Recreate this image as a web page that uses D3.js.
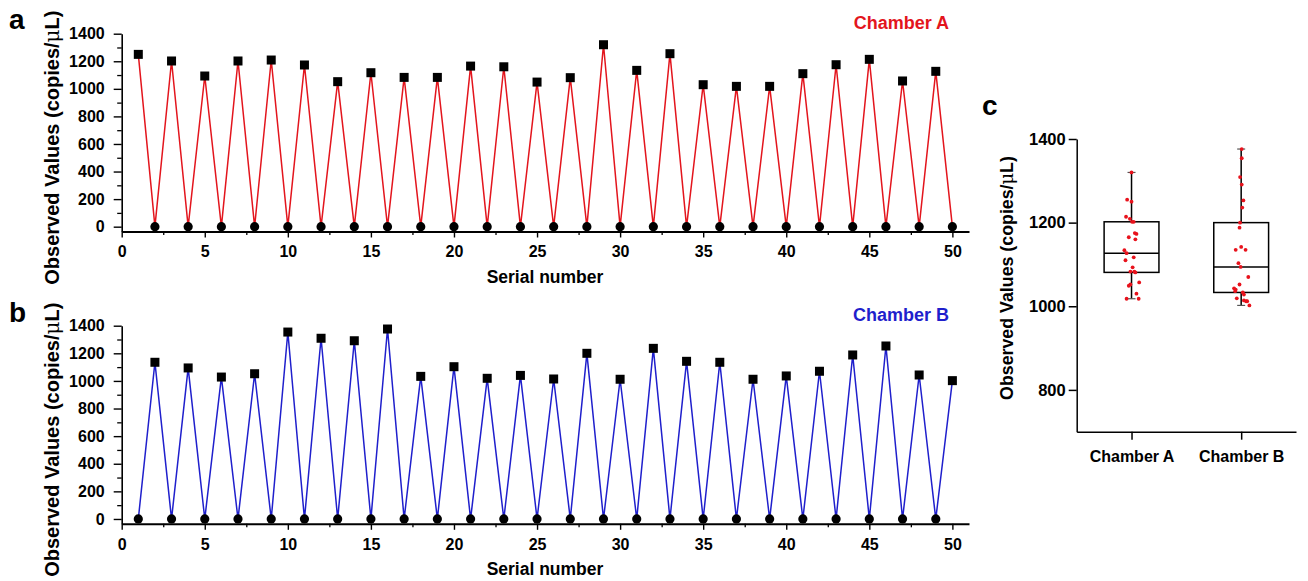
<!DOCTYPE html>
<html>
<head>
<meta charset="utf-8">
<script src="https://cdn.jsdelivr.net/npm/d3@7"></script>
<style>
  html, body { margin: 0; padding: 0; background: #fff; }
  svg { display: block; font-family: "Liberation Sans", Arial, sans-serif; }
  .axis text { font-weight: bold; fill: #000; }
  .axis path, .axis line { stroke: #000; }
</style>
</head>
<body>
<svg id="chart" width="1308" height="581"></svg>
<script>
// ---------------- data ----------------
const serial = [1,2,3,4,5,6,7,8,9,10,11,12,13,14,15,16,17,18,19,20,21,22,23,24,25,
                26,27,28,29,30,31,32,33,34,35,36,37,38,39,40,41,42,43,44,45,46,47,48,49,50];
const chamberA = [1250,0,1202,0,1093,0,1202,0,1209,0,1173,0,1052,0,1117,0,1083,0,1083,0,
                  1165,0,1160,0,1049,0,1081,0,1320,0,1134,0,1255,0,1030,0,1018,0,1018,0,
                  1110,0,1175,0,1214,0,1057,0,1127,0];
const chamberB = [0,1135,0,1094,0,1028,0,1052,0,1354,0,1309,0,1291,0,1376,0,1033,0,1103,
                  0,1019,0,1040,0,1014,0,1200,0,1012,0,1236,0,1142,0,1135,0,1012,0,1036,
                  0,1070,0,1188,0,1253,0,1043,0,1002];
const xTicks = [0,5,10,15,20,25,30,35,40,45,50];
const yTicks = [0,200,400,600,800,1000,1200,1400];
const boxCategories = ["Chamber A","Chamber B"];
const boxTicks = [800,1000,1200,1400];
// horizontal jitter of the scatter dots in panel c, as a fraction of the box width
const jitterA = [0,0.01,0.02,0.04,-0.03,0.09,-0.02,0.04,-0.02,0.05,-0.05,0.07,-0.05,0.07,0,
                 -0.13,-0.08,0.09,-0.09,0.13,-0.11,0.06,-0.10,0.14,-0.09];
const jitterB = [-0.10,-0.01,0.05,-0.03,0.01,-0.02,0.01,0.01,0.03,-0.05,-0.08,-0.10,0.05,-0.02,
                 0.09,0.02,0,0.08,0.11,-0.11,0.13,-0.03,0.04,-0.13,0.15];

// ---------------- drawing ----------------
const svg = d3.select("#chart");
const FONT = '"Liberation Sans", Arial, sans-serif';
const RED = "#e3151d", BLUE = "#1f1fcc";
const fmt = d3.format("d");

function seriesPanel(values, color, yRange, label, titleY, xTitleY, panelLetter, letterY) {
  const x = d3.scaleLinear().domain([0, 51]).range([121.7, 969]);
  const y = d3.scaleLinear().domain([-35, 1400]).range(yRange);
  const g = svg.append("g");
  const y0 = y(-35);

  // minor ticks
  g.append("g").attr("class","axis").attr("transform",`translate(0,${y0})`)
    .call(d3.axisBottom(x).tickValues(d3.range(2.5, 51, 5)).tickSize(3.5).tickFormat(""))
    .call(a => a.select(".domain").remove())
    .selectAll("line").attr("stroke-width",1.3);
  g.append("g").attr("class","axis").attr("transform",`translate(${x(0)},0)`)
    .call(d3.axisLeft(y).tickValues(d3.range(100, 1400, 200)).tickSize(4.5).tickFormat(""))
    .call(a => a.select(".domain").remove())
    .selectAll("line").attr("stroke-width",1.3);

  // major axes
  const xa = g.append("g").attr("class","axis").attr("transform",`translate(0,${y0})`)
    .call(d3.axisBottom(x).tickValues(xTicks).tickFormat(fmt).tickSize(6).tickPadding(8.5).tickSizeOuter(0));
  xa.select(".domain").attr("stroke-width",2);
  xa.selectAll("line").attr("stroke-width",1.4);
  xa.selectAll("text").style("font-size","16px").style("font-family",FONT);

  const ya = g.append("g").attr("class","axis").attr("transform",`translate(${x(0)},0)`)
    .call(d3.axisLeft(y).tickValues(yTicks).tickFormat(fmt).tickSize(8).tickPadding(9).tickSizeOuter(0));
  ya.select(".domain").attr("stroke-width",1.6);
  ya.selectAll("line").attr("stroke-width",1.4);
  ya.selectAll("text").style("font-size","16px").style("font-family",FONT);

  // line
  const pts = serial.map((s,i)=>({s, v: values[i]}));
  g.append("path").datum(pts)
    .attr("fill","none").attr("stroke",color).attr("stroke-width",1.5)
    .attr("d", d3.line().x(d=>x(d.s)).y(d=>y(d.v)));

  // markers
  g.selectAll("rect.m").data(pts.filter(d=>d.v>0)).join("rect").attr("class","m")
    .attr("x",d=>x(d.s)-4.5).attr("y",d=>y(d.v)-4.5).attr("width",9).attr("height",9).attr("fill","#000");
  g.selectAll("circle.m").data(pts.filter(d=>d.v===0)).join("circle").attr("class","m")
    .attr("cx",d=>x(d.s)).attr("cy",d=>y(d.v)).attr("r",4.6).attr("fill","#000");

  // labels
  g.append("text").attr("x",949).attr("y",titleY).attr("text-anchor","end")
    .style("font-size","18px").style("font-weight","bold").attr("fill",color).text(label);
  g.append("text").attr("x",545).attr("y",xTitleY).attr("text-anchor","middle")
    .style("font-size","17.5px").style("font-weight","bold").attr("fill","#000").text("Serial number");
  const yt = g.append("text")
    .attr("transform",`translate(59,${(yRange[0]+yRange[1])/2 + 15}) rotate(-90)`)
    .attr("text-anchor","middle").style("font-size","20px").style("font-weight","bold");
  yt.append("tspan").text("Observed Values (copies/");
  yt.append("tspan").style("font-weight","normal").style("font-family",'"DejaVu Serif", serif').text("μ");
  yt.append("tspan").text("L)");
  g.append("text").attr("x",9).attr("y",letterY)
    .style("font-size","28px").style("font-weight","bold").attr("fill","#000").text(panelLetter);
}

seriesPanel(chamberA, RED, [231.5, 33.7], "Chamber A", 29, 283, "a", 28.5);
seriesPanel(chamberB, BLUE, [523.8, 325.7], "Chamber B", 320.7, 575, "b", 321.5);

// ---------------- panel c ----------------
(function(){
  const x = d3.scalePoint().domain(boxCategories).range([1076.7, 1296]).padding(0.5);
  const y = d3.scaleLinear().domain([700, 1400]).range([431.7, 139]);
  const g = svg.append("g");
  const boxW = x.step() * 0.5;

  const xa = g.append("g").attr("class","axis").attr("transform",`translate(0,${y(700)})`)
    .call(d3.axisBottom(x).tickSize(8).tickPadding(11).tickSizeOuter(0));
  xa.select(".domain").attr("stroke-width",1.5).attr("stroke","#333");
  xa.selectAll("line").attr("stroke-width",1.5);
  xa.selectAll("text").style("font-size","16px").style("font-family",FONT);

  const ya = g.append("g").attr("class","axis").attr("transform",`translate(${x.range()[0]},0)`)
    .call(d3.axisLeft(y).tickValues(boxTicks).tickFormat(fmt).tickSize(8).tickPadding(3).tickSizeOuter(0));
  ya.select(".domain").attr("stroke-width",1.5).attr("stroke","#333");
  ya.selectAll("line").attr("stroke-width",1.5);
  ya.selectAll("text").style("font-size","16.5px").style("font-family",FONT);

  const groups = [
    {cat: boxCategories[0], vals: chamberA.filter(v=>v>0), jit: jitterA},
    {cat: boxCategories[1], vals: chamberB.filter(v=>v>0), jit: jitterB}
  ];
  groups.forEach(gr => {
    const s = gr.vals.slice().sort(d3.ascending);
    const q1 = d3.quantile(s,0.25), med = d3.quantile(s,0.5), q3 = d3.quantile(s,0.75);
    const mn = s[0], mx = s[s.length-1];
    const cx = x(gr.cat);
    // whiskers
    g.append("line").attr("x1",cx).attr("x2",cx).attr("y1",y(mx)).attr("y2",y(q3))
      .attr("stroke","#000").attr("stroke-width",1.5);
    g.append("line").attr("x1",cx).attr("x2",cx).attr("y1",y(q1)).attr("y2",y(mn))
      .attr("stroke","#000").attr("stroke-width",1.5);
    [mx, mn].forEach(v => g.append("line").attr("x1",cx-4).attr("x2",cx+4)
      .attr("y1",y(v)).attr("y2",y(v)).attr("stroke","#555").attr("stroke-width",1.2));
    // box
    g.append("rect").attr("x",cx-boxW/2).attr("y",y(q3)).attr("width",boxW)
      .attr("height",y(q1)-y(q3)).attr("fill","none").attr("stroke","#000").attr("stroke-width",1.5);
    g.append("line").attr("x1",cx-boxW/2).attr("x2",cx+boxW/2).attr("y1",y(med)).attr("y2",y(med))
      .attr("stroke","#000").attr("stroke-width",1.5);
    // dots
    g.selectAll(null).data(gr.vals).join("circle")
      .attr("cx",(d,i)=>cx + gr.jit[i]*boxW).attr("cy",d=>y(d)).attr("r",1.9).attr("fill","#e8121c");
  });

  const yt = g.append("text")
    .attr("transform",`translate(1013,278) rotate(-90)`)
    .attr("text-anchor","middle").style("font-size","17.8px").style("font-weight","bold");
  yt.append("tspan").text("Observed Values (copies/");
  yt.append("tspan").style("font-weight","normal").style("font-family",'"DejaVu Serif", serif').text("μ");
  yt.append("tspan").text("L)");
  g.append("text").attr("x",982).attr("y",115)
    .style("font-size","28px").style("font-weight","bold").attr("fill","#000").text("c");
})();
</script>
</body>
</html>
